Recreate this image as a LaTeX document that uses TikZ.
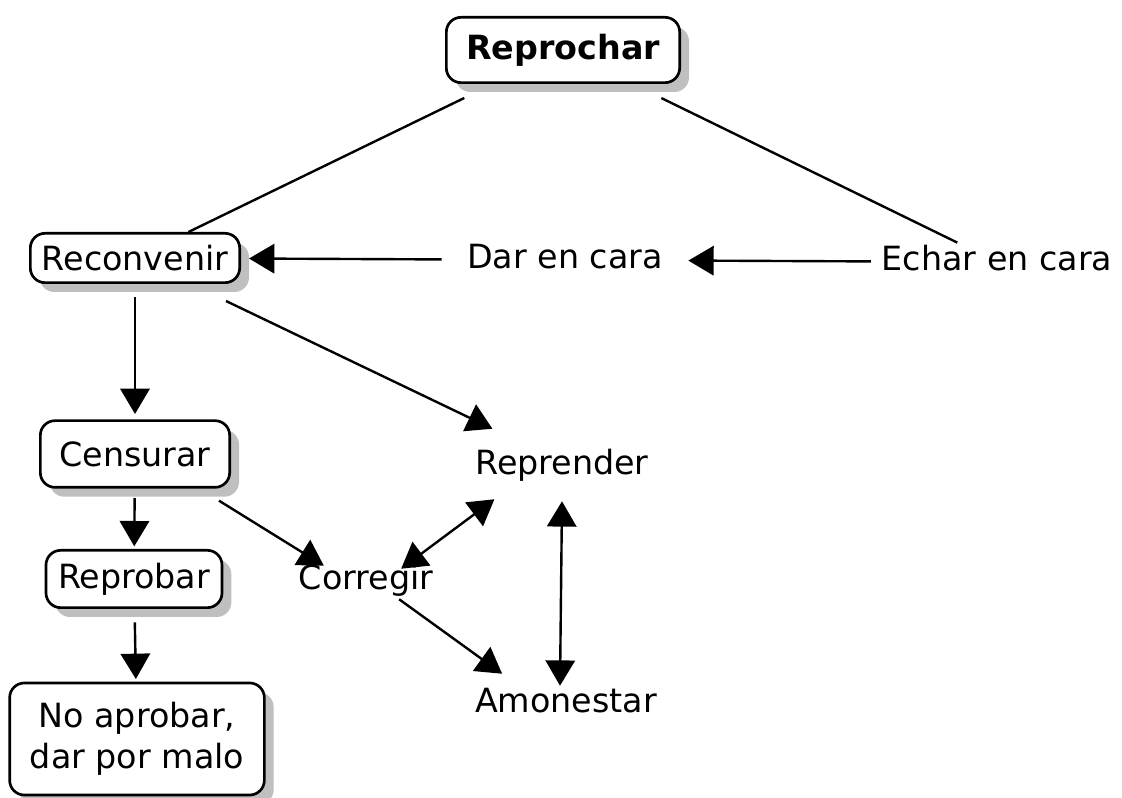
\documentclass[tikz,border=0pt]{standalone}
\usepackage{fontspec}
\setmainfont{DejaVu Sans}
\usetikzlibrary{arrows.meta,shadows,calc}
\tikzset{
  concept/.style={draw, rounded corners=11pt, fill=white, line width=2pt, align=center,
                  font=\fontsize{25}{31}\selectfont, inner sep=2pt,
                  drop shadow={shadow xshift=7pt, shadow yshift=-7pt, fill=black!25, opacity=1}},
  word/.style={align=center, font=\fontsize{25}{31}\selectfont, inner sep=2pt,
               text height=18pt, text depth=5pt},
  link/.style={line width=1.8pt},
  arr/.style={link, -{Triangle[length=19pt, width=22pt]}},
  darr/.style={link, {Triangle[length=19pt, width=22pt]}-{Triangle[length=19pt, width=22pt]}},
}

\begin{document}
\begin{tikzpicture}[x=0.75pt, y=-0.75pt]
  \useasboundingbox (0,0) rectangle (1122,798);
  % concept boxes
  \node[concept, font=\fontsize{25}{31}\selectfont\bfseries, minimum width=175pt, minimum height=49pt] (rep) at (563,50) {Reprochar};
  \node[concept, minimum width=157pt, minimum height=37pt] (rec) at (135,258) {Reconvenir};
  \node[concept, minimum width=142pt, minimum height=50pt] (cen) at (135,454) {Censurar};
  \node[concept, minimum width=132pt, minimum height=43pt] (rpb) at (134,579) {Reprobar};
  \node[concept, minimum width=191pt, minimum height=84pt] (nap) at (137,739) {No aprobar,\\dar por malo};
  % plain words
  \node[word] (dar) at (565,260) {Dar en cara};
  \node[word] (ech) at (997,262) {Echar en cara};
  \node[word] (rpd) at (562,466) {Reprender};
  \node[word] (cor) at (366,581) {Corregir};
  \node[word] (amo) at (566,704) {Amonestar};

  \draw[link, shorten <=24pt] (rep) -- (rec);
  \draw[link, shorten <=24pt, shorten >=2pt] (rep) -- (ech);
  \draw[arr, shorten <=6pt, shorten >=17pt] (ech) -- (dar);
  \draw[arr, shorten <=17pt, shorten >=6pt] (dar) -- (rec);
  \draw[arr, shorten <=10pt, shorten >=4pt] (rec) -- (cen);
  \draw[arr] ($(rec.south east)+(-15,17)$) -- ($(rpd.north west)+(20,-19)$);
  \draw[arr, shorten <=7pt, shorten >=2pt] (cen) -- (rpb);
  \draw[arr] ($(cen.south east)+(-12,12)$) -- ($(cor.north west)+(28,3)$);
  \draw[darr] ($(cor.north east)+(-35,6)$) -- ($(rpd.south west)+(22,15)$);
  \draw[darr] ($(rpd.south)+(0,17)$) -- ($(amo.north)+(-6,0)$);
  \draw[arr] ($(cor.south east)+(-37,0)$) -- ($(amo.north west)+(30,-12)$);
  \draw[arr, shorten <=10pt, shorten >=2pt] (rpb) -- (nap);
\end{tikzpicture}
\end{document}
